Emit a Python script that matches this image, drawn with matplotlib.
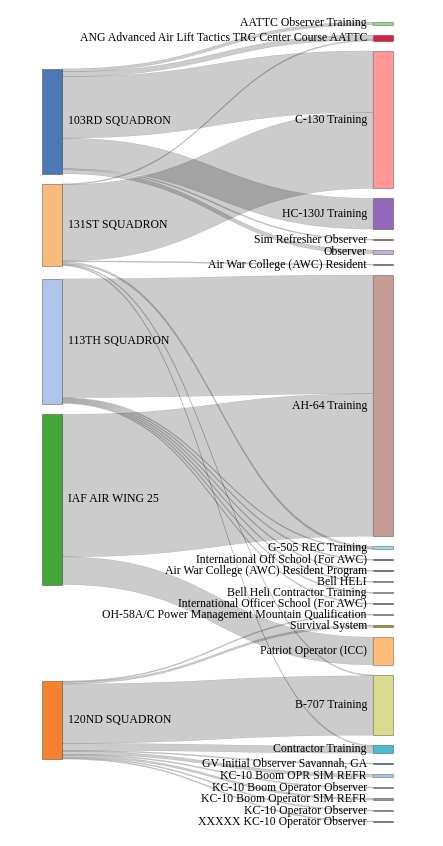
import numpy as np
import matplotlib.pyplot as plt
from matplotlib.path import Path
from matplotlib.patches import PathPatch, Rectangle

# ---------------- Data ----------------
units = ["103RD SQUADRON", "131ST SQUADRON", "113TH SQUADRON", "IAF AIR WING 25", "120ND SQUADRON"]

courses = [
    "AATTC Observer Training",
    "ANG Advanced Air Lift Tactics TRG Center Course AATTC",
    "C-130 Training",
    "HC-130J Training",
    "Sim Refresher Observer",
    "Observer",
    "Air War College (AWC) Resident",
    "AH-64 Training",
    "G-505 REC Training",
    "International Off School (For AWC)",
    "Air War College (AWC) Resident Program",
    "Bell HELI",
    "Bell Heli Contractor Training",
    "International Officer School (For AWC)",
    "OH-58A/C Power Management Mountain Qualification",
    "Survival System",
    "Patriot Operator (ICC)",
    "B-707 Training",
    "Contractor Training",
    "GV Initial Observer Savannah, GA",
    "KC-10 Boom OPR SIM REFR",
    "KC-10 Boom Operator Observer",
    "KC-10 Boom Operator SIM REFR",
    "KC-10 Operator Observer",
    "XXXXX KC-10 Operator Observer",
]

unit_colors = ["#4c78b5", "#f7bb7c", "#aec4e8", "#45a53b", "#f5822f"]
course_colors = [
    "#98df8a", "#d62040", "#ff9896", "#9467bd", "#8c564b", "#c5b0d5", "#9c4f8a",
    "#c49c94", "#9edae5", "#555555", "#7b3f7a", "#b07aa8", "#c090b8", "#666666",
    "#999999", "#8c9a26", "#ffbb78", "#dbdb8d", "#4bbccf", "#3a5a80", "#aec7e8",
    "#7f8fa6", "#8a96b0", "#7f8fa6", "#a0613a",
]

link_source = (
    ["103RD SQUADRON"] * 6
    + ["131ST SQUADRON"] * 6
    + ["113TH SQUADRON"] * 7
    + ["IAF AIR WING 25"] * 2
    + ["120ND SQUADRON"] * 10
)
link_target = [
    "AATTC Observer Training", "ANG Advanced Air Lift Tactics TRG Center Course AATTC",
    "C-130 Training", "HC-130J Training", "Sim Refresher Observer", "Observer",
    "ANG Advanced Air Lift Tactics TRG Center Course AATTC", "C-130 Training",
    "Air War College (AWC) Resident",
    "G-505 REC Training", "B-707 Training", "Contractor Training",
    "AH-64 Training", "G-505 REC Training", "International Off School (For AWC)",
    "Air War College (AWC) Resident Program", "Bell HELI", "Bell Heli Contractor Training",
    "International Officer School (For AWC)",
    "AH-64 Training", "Patriot Operator (ICC)",
    "OH-58A/C Power Management Mountain Qualification", "Survival System", "B-707 Training",
    "Contractor Training", "GV Initial Observer Savannah, GA", "KC-10 Boom OPR SIM REFR",
    "KC-10 Boom Operator Observer", "KC-10 Boom Operator SIM REFR",
    "KC-10 Operator Observer", "XXXXX KC-10 Operator Observer",
]
link_value = [
    3, 5, 62, 31, 1, 4,
    1, 77, 1, 2, 1, 1,
    120, 1, 1, 1, 1, 1, 1,
    144, 28,
    1, 2, 60, 7, 1, 3, 1, 2, 1, 1,
]

# ---------------- Layout (sankey relaxation) ----------------
W, H = 443, 846
Y_TOP, Y_BOT, PAD = 22, 822, 10
X_LEFT, X_RIGHT, NODE_W = 42, 373, 20
ITERATIONS = 50

names = units + courses
colors = unit_colors + course_colors
idx = {n: i for i, n in enumerate(names)}
N = len(names)
src = [idx[s] for s in link_source]
tgt = [idx[t] for t in link_target]
val = link_value

out_links = [[] for _ in range(N)]
in_links = [[] for _ in range(N)]
for k in range(len(val)):
    out_links[src[k]].append(k)
    in_links[tgt[k]].append(k)
node_val = [max(sum(val[k] for k in out_links[i]), sum(val[k] for k in in_links[i])) for i in range(N)]
columns = [list(range(len(units))), list(range(len(units), N))]

py = min(PAD, (Y_BOT - Y_TOP) / (max(len(c) for c in columns) - 1))
ky = min((Y_BOT - Y_TOP - (len(c) - 1) * py) / sum(node_val[i] for i in c) for c in columns)
width = [v * ky for v in val]
y0 = np.zeros(N)
y1 = np.zeros(N)


def sort_node(i):
    out_links[i].sort(key=lambda k: (y0[tgt[k]], k))
    in_links[i].sort(key=lambda k: (y0[src[k]], k))


def reorder_node_links(i):
    for k in in_links[i]:
        out_links[src[k]].sort(key=lambda m: (y0[tgt[m]], m))
    for k in out_links[i]:
        in_links[tgt[k]].sort(key=lambda m: (y0[src[m]], m))


def source_top(s, t):
    # top of s that would make the s->t link horizontal
    y = y0[t] - (len(in_links[t]) - 1) * py / 2
    for k in in_links[t]:
        if src[k] == s:
            break
        y += width[k] + py
    for k in out_links[s]:
        if tgt[k] == t:
            break
        y -= width[k]
    return y


def target_top(s, t):
    y = y0[s] - (len(out_links[s]) - 1) * py / 2
    for k in out_links[s]:
        if tgt[k] == t:
            break
        y += width[k] + py
    for k in in_links[t]:
        if src[k] == s:
            break
        y -= width[k]
    return y


def shift(n, dy):
    y0[n] += dy
    y1[n] += dy


def resolve(col):
    # push overlapping nodes down, then back up if past the bottom
    y = Y_TOP
    for n in col:
        dy = y - y0[n]
        if dy > 0:
            shift(n, dy)
        y = y1[n] + py
    dy = y - py - Y_BOT
    if dy > 0:
        shift(col[-1], -dy)
        y = y0[col[-1]]
        for n in col[-2::-1]:
            dy = y1[n] + py - y
            if dy > 0:
                shift(n, -dy)
            y = y0[n]


for col in columns:
    y = Y_TOP
    for i in col:
        y0[i] = y
        y1[i] = y + node_val[i] * ky
        y = y1[i] + py
    extra = (Y_BOT - y + py) / (len(col) + 1)
    for j, i in enumerate(col):
        shift(i, extra * (j + 1))
for i in range(N):
    sort_node(i)

alpha = 1.0
for it in range(ITERATIONS):
    alpha *= 0.99
    for s in columns[0]:
        ys = sum(source_top(s, tgt[k]) * val[k] for k in out_links[s])
        w = sum(val[k] for k in out_links[s])
        shift(s, (ys / w - y0[s]) * alpha)
        reorder_node_links(s)
    resolve(columns[0])
    for t in columns[1]:
        yt = sum(target_top(src[k], t) * val[k] for k in in_links[t])
        w = sum(val[k] for k in in_links[t])
        shift(t, (yt / w - y0[t]) * alpha)
        reorder_node_links(t)
    resolve(columns[1])

for i in range(N):
    sort_node(i)

# link edges at both ends
link_y_src = [0.0] * len(val)
link_y_tgt = [0.0] * len(val)
for i in range(N):
    y = y0[i]
    for k in out_links[i]:
        link_y_src[k] = y
        y += width[k]
    y = y0[i]
    for k in in_links[i]:
        link_y_tgt[k] = y
        y += width[k]

# ---------------- Draw ----------------
plt.rcParams["font.family"] = ["Liberation Serif", "DejaVu Serif"]
fig = plt.figure(figsize=(W / 100, H / 100), dpi=100)
ax = fig.add_axes([0, 0, 1, 1])
ax.set_xlim(0, W)
ax.set_ylim(H, 0)
ax.axis("off")

xa = X_LEFT + NODE_W
xb = X_RIGHT
xm = (xa + xb) / 2
for k in range(len(val)):
    sa, ta, w = link_y_src[k], link_y_tgt[k], width[k]
    verts = [(xa, sa), (xm, sa), (xm, ta), (xb, ta),
             (xb, ta + w), (xm, ta + w), (xm, sa + w), (xa, sa + w), (xa, sa)]
    codes = [Path.MOVETO, Path.CURVE4, Path.CURVE4, Path.CURVE4,
             Path.LINETO, Path.CURVE4, Path.CURVE4, Path.CURVE4, Path.CLOSEPOLY]
    ax.add_patch(PathPatch(Path(verts, codes), facecolor=(0, 0, 0, 0.2),
                           edgecolor=(0, 0, 0, 0.2), lw=0.3))

for c, col in enumerate(columns):
    x = X_LEFT if c == 0 else X_RIGHT
    for i in col:
        ax.add_patch(Rectangle((x, y0[i]), NODE_W, max(y1[i] - y0[i], 0.8),
                               facecolor=colors[i], edgecolor=(0, 0, 0, 0.45), lw=0.5))
        yc = (y0[i] + y1[i]) / 2
        if c == 0:
            ax.text(x + NODE_W + 6, yc, names[i], ha="left", va="center", fontsize=8.5)
        else:
            ax.text(x - 6, yc, names[i], ha="right", va="center", fontsize=8.5)

fig.savefig("out.png", dpi=100)
